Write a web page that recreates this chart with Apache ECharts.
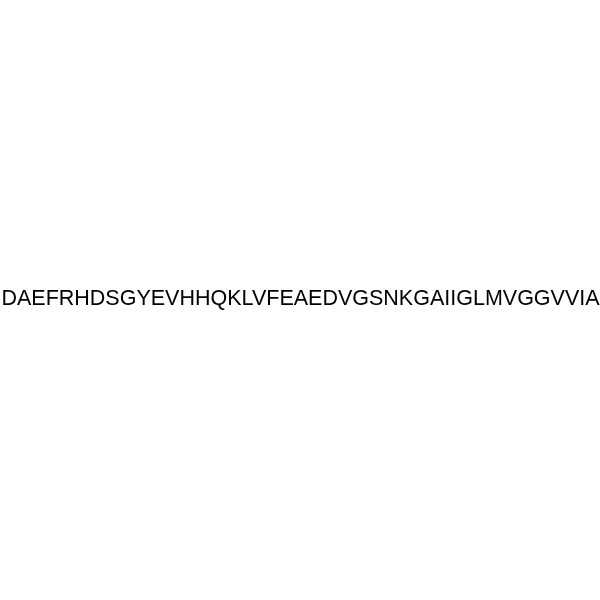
<!DOCTYPE html>
<html>
<head>
<meta charset="utf-8">
<script src="https://cdn.jsdelivr.net/npm/echarts@6/dist/echarts.min.js"></script>
<style>
html,body{margin:0;padding:0;background:#fff;}
#main{width:600px;height:600px;}
</style>
</head>
<body>
<div id="main"></div>
<script>
// Peptide sequence residues (one-letter codes)
var residues = ["D","A","E","F","R","H","D","S","G","Y","E","V","H","H","Q","K","L","V","F","E","A","E","D","V","G","S","N","K","G","A","I","I","G","L","M","V","G","G","V","V","I","A"];
var sequenceLabel = residues.join("");

var chart = echarts.init(document.getElementById('main'), null, {renderer: 'canvas'});
chart.setOption({
  backgroundColor: '#ffffff',
  animation: false,
  graphic: [{
    type: 'text',
    x: 300.5,
    y: 299.5,
    style: {
      text: sequenceLabel,
      fill: '#000000',
      font: '21.5px "Liberation Sans", Arial, sans-serif',
      textAlign: 'center',
      textVerticalAlign: 'middle'
    }
  }]
});
</script>
</body>
</html>
